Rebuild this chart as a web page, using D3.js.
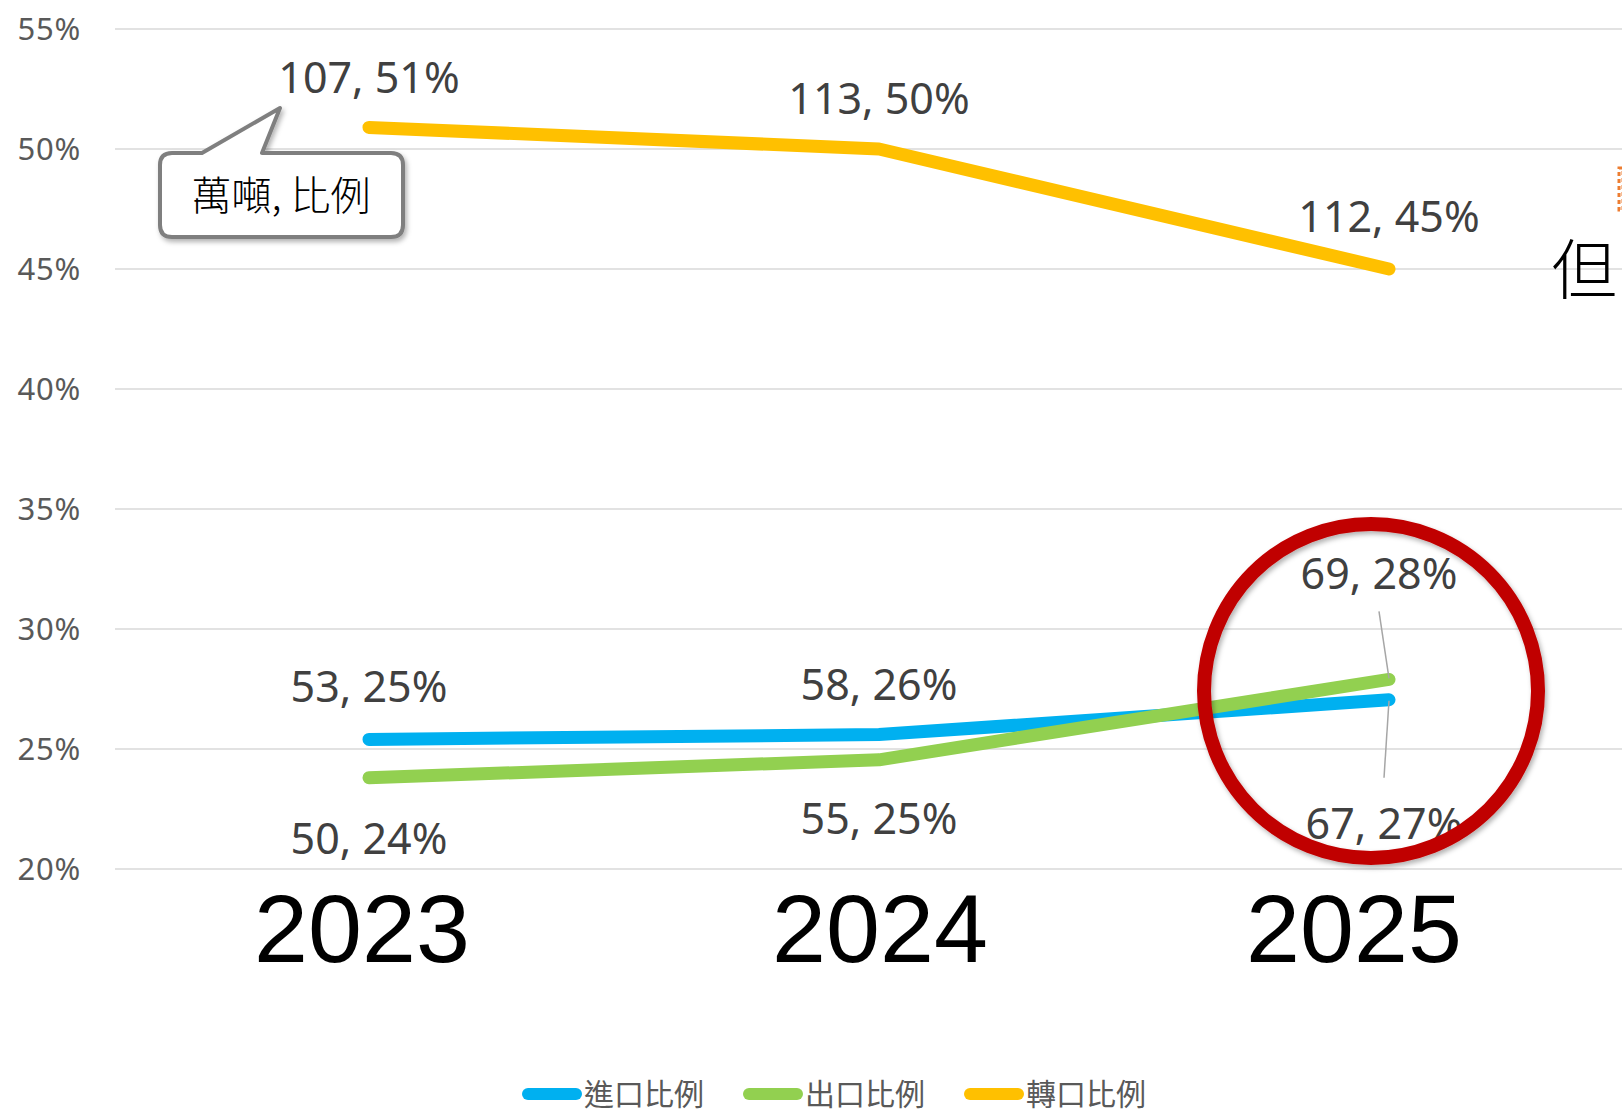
<!DOCTYPE html>
<html>
<head>
<meta charset="utf-8">
<script src="https://cdn.jsdelivr.net/npm/d3@7"></script>
<style>
  html, body { margin: 0; padding: 0; background: #fff; overflow: hidden; }
  svg { display: block; }
</style>
</head>
<body>
<svg id="chart" width="1622" height="1113"></svg>
<script>
// data
const years = ["2023", "2024", "2025"];
const yTicks = [20, 25, 30, 35, 40, 45, 50, 55];

const importTons = [53, 58, 67];
const importPct = [25.4, 25.6, 27.05];
const exportTons = [50, 55, 69];
const exportPct = [23.8, 24.55, 27.9];
const transitTons = [107, 113, 112];
const transitPct = [50.9, 50.0, 45.0];

const seriesNames = ["進口比例", "出口比例", "轉口比例"];
const colors = ["#00b0f0", "#92d050", "#ffc000"];

const series = [
  { name: seriesNames[0], color: colors[0], tons: importTons, pct: importPct,
    // label offsets [dx, dy] from the point to the label baseline
    lab: [[0, -37], [0, -35], [-5, 139]], leader: [false, false, true] },
  { name: seriesNames[1], color: colors[1], tons: exportTons, pct: exportPct,
    lab: [[0, 76], [0, 74], [-10, -90]], leader: [false, false, true] },
  { name: seriesNames[2], color: colors[2], tons: transitTons, pct: transitPct,
    lab: [[0, -34], [0, -35], [0, -37]], leader: [false, false, false] }
];

const svg = d3.select("#chart");
const font = "'Noto Sans', 'Noto Sans CJK TC', sans-serif";

const x = d3.scalePoint().domain(years).range([369, 1389]);
const y = d3.scaleLinear().domain([20, 55]).range([869, 29]);

const defs = svg.append("defs");
const shadow = defs.append("filter").attr("id", "shadow")
  .attr("x", "-20%").attr("y", "-20%").attr("width", "140%").attr("height", "140%");
shadow.append("feDropShadow").attr("dx", 2).attr("dy", 3).attr("stdDeviation", 2.5)
  .attr("flood-color", "#000").attr("flood-opacity", 0.3);

// gridlines
svg.append("g").selectAll("line")
  .data(yTicks)
  .join("line")
  .attr("x1", 115).attr("x2", 1622)
  .attr("y1", d => y(d)).attr("y2", d => y(d))
  .attr("stroke", "#d9d9d9").attr("stroke-width", 1.5);

// y axis labels
svg.append("g").selectAll("text")
  .data(yTicks)
  .join("text")
  .attr("x", 81).attr("y", d => y(d))
  .attr("dy", "0.36em")
  .attr("text-anchor", "end")
  .attr("font-family", font).attr("font-size", 31)
  .attr("letter-spacing", 0.8)
  .attr("fill", "#595959")
  .text(d => d + "%");

// lines
const line = d3.line().x((d, i) => x(years[i])).y(d => y(d));
svg.append("g").selectAll("path")
  .data(series)
  .join("path")
  .attr("d", s => line(s.pct))
  .attr("fill", "none")
  .attr("stroke", s => s.color)
  .attr("stroke-width", 13)
  .attr("stroke-linecap", "round")
  .attr("stroke-linejoin", "round");

// data labels
series.forEach(s => {
  const g = svg.append("g");
  s.pct.forEach((v, i) => {
    const px = x(years[i]), py = y(v);
    const lx = px + s.lab[i][0], ly = py + s.lab[i][1];
    if (s.leader[i]) {
      const above = s.lab[i][1] < 0;
      g.append("line")
        .attr("x1", lx).attr("y1", above ? ly + 22 : ly - 61)
        .attr("x2", px).attr("y2", py + (above ? -1 : 1))
        .attr("stroke", "#a6a6a6").attr("stroke-width", 1.5);
    }
    g.append("text")
      .attr("x", lx).attr("y", ly)
      .attr("text-anchor", "middle")
      .attr("font-family", font).attr("font-size", 43)
      .attr("fill", "#404040")
      .text(s.tons[i] + ", " + Math.round(v) + "%");
  });
});

// big year labels (text boxes over the axis)
const yearX = [362, 880, 1354];
svg.append("g").selectAll("text")
  .data(years)
  .join("text")
  .attr("x", (d, i) => yearX[i]).attr("y", 962)
  .attr("text-anchor", "middle")
  .attr("font-family", "'Liberation Sans', Arial, sans-serif")
  .attr("font-size", 97)
  .attr("fill", "#000")
  .text(d => d);

// callout "萬噸, 比例"
const callout = svg.append("g").attr("filter", "url(#shadow)");
callout.append("path")
  .attr("d", "M172,153 L202,153 L280,108 L262,153 L391,153 Q403,153 403,165 L403,225 Q403,237 391,237 L172,237 Q160,237 160,225 L160,165 Q160,153 172,153 Z")
  .attr("fill", "#fff").attr("stroke", "#7f7f7f").attr("stroke-width", 4)
  .attr("stroke-linejoin", "round");
svg.append("text")
  .attr("x", 281).attr("y", 210)
  .attr("text-anchor", "middle")
  .attr("font-family", "'Noto Sans CJK TC', sans-serif").attr("font-size", 40)
  .attr("font-weight", 300)
  .attr("fill", "#000")
  .text("萬噸, 比例");

// red highlight circle
svg.append("circle")
  .attr("cx", 1371).attr("cy", 691).attr("r", 167)
  .attr("fill", "none").attr("stroke", "#c00000").attr("stroke-width", 14)
  .attr("filter", "url(#shadow)");

// cut-off text at the right edge
svg.append("text")
  .attr("x", 1551).attr("y", 294)
  .attr("font-family", "'Noto Sans CJK TC', sans-serif").attr("font-size", 66)
  .attr("font-weight", 300)
  .attr("fill", "#000")
  .text("但");
svg.append("rect")
  .attr("x", 1619).attr("y", 168).attr("width", 4).attr("height", 42)
  .attr("fill", "none").attr("stroke", "#ed7d31").attr("stroke-width", 3)
  .attr("stroke-dasharray", "4,3");

// legend
const legend = svg.append("g").selectAll("g")
  .data(series)
  .join("g")
  .attr("transform", (d, i) => `translate(${528 + i * 221},1094)`);
legend.append("line")
  .attr("x1", 0).attr("x2", 48)
  .attr("stroke", d => d.color).attr("stroke-width", 12)
  .attr("stroke-linecap", "round");
legend.append("text")
  .attr("x", 56).attr("dy", "0.36em")
  .attr("font-family", "'Noto Sans CJK TC', sans-serif").attr("font-size", 30)
  .attr("fill", "#595959")
  .text(d => d.name);
</script>
</body>
</html>
